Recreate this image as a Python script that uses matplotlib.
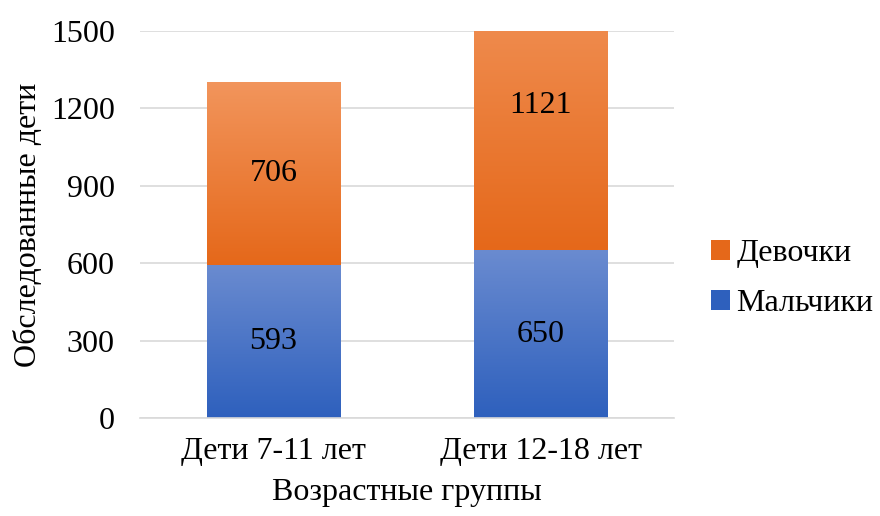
import matplotlib
matplotlib.use("Agg")
import matplotlib.pyplot as plt
import numpy as np
from matplotlib.colors import LinearSegmentedColormap
from matplotlib.patches import Rectangle

plt.rcParams['font.family'] = ['Liberation Serif', 'DejaVu Serif']

categories = ["Дети 7-11 лет", "Дети 12-18 лет"]
boys = [593, 650]
girls = [706, 1121]
series_names = ["Мальчики", "Девочки"]
yticks = [0, 300, 600, 900, 1200, 1500]

blue_top, blue_bottom = "#6a8bd0", "#2e60bd"
orange_top, orange_bottom = "#f2955c", "#e5681a"
FS = 23

fig = plt.figure(figsize=(8.8, 5.16), dpi=100)
ax = fig.add_axes([0.159, 0.19, 0.607, 0.75])
ax.set_xlim(-0.5, 1.5)
ax.set_ylim(0, 1500)

width = 0.5


def gradient_bar(x, bottom, height, top_color, bottom_color):
    cmap = LinearSegmentedColormap.from_list("g", [bottom_color, top_color])
    grad = np.linspace(0, 1, 256).reshape(-1, 1)
    extent = (x - width / 2, x + width / 2, bottom, bottom + height)
    im = ax.imshow(grad, cmap=cmap, aspect="auto", origin="lower",
                   extent=extent, zorder=2, interpolation="bicubic")
    rect = Rectangle((x - width / 2, bottom), width, height,
                     transform=ax.transData, facecolor="none", edgecolor="none")
    ax.add_patch(rect)
    im.set_clip_path(rect)
    im.set_clip_box(ax.bbox)


for i, cat in enumerate(categories):
    gradient_bar(i, 0, boys[i], blue_top, blue_bottom)
    gradient_bar(i, boys[i], girls[i], orange_top, orange_bottom)
    ax.text(i, boys[i] / 2, str(boys[i]), ha="center", va="center",
            fontsize=FS, color="black", zorder=3)
    ax.text(i, boys[i] + girls[i] / 2, str(girls[i]), ha="center", va="center",
            fontsize=FS, color="black", zorder=3)

ax.set_xlim(-0.5, 1.5)
ax.set_ylim(0, 1500)
ax.set_yticks(yticks)
ax.set_yticklabels([str(t) for t in yticks], fontsize=FS)
ax.set_xticks(range(len(categories)))
ax.set_xticklabels(categories, fontsize=FS)
ax.tick_params(axis='y', length=0, pad=18)
ax.tick_params(axis='x', length=0, pad=14)
ax.grid(axis='y', color="#d9d9d9", linewidth=1.2, zorder=0)
ax.set_axisbelow(True)
for s in ["top", "right", "left"]:
    ax.spines[s].set_visible(False)
ax.spines["bottom"].set_color("#d9d9d9")
ax.spines["bottom"].set_linewidth(1.2)

ax.set_xlabel("Возрастные группы", fontsize=FS, labelpad=8)
ax.set_ylabel("Обследованные дети", fontsize=FS, labelpad=6)

handles = [Rectangle((0, 0), 1, 1, facecolor=orange_bottom),
           Rectangle((0, 0), 1, 1, facecolor=blue_bottom)]
fig.legend(handles, [series_names[1], series_names[0]],
           loc="center left", bbox_to_anchor=(0.808, 0.46), frameon=False,
           fontsize=FS, handlelength=0.6, handleheight=0.6,
           handletextpad=0.2, labelspacing=0.65, borderpad=0, borderaxespad=0)

fig.savefig("out.png", dpi=100)
